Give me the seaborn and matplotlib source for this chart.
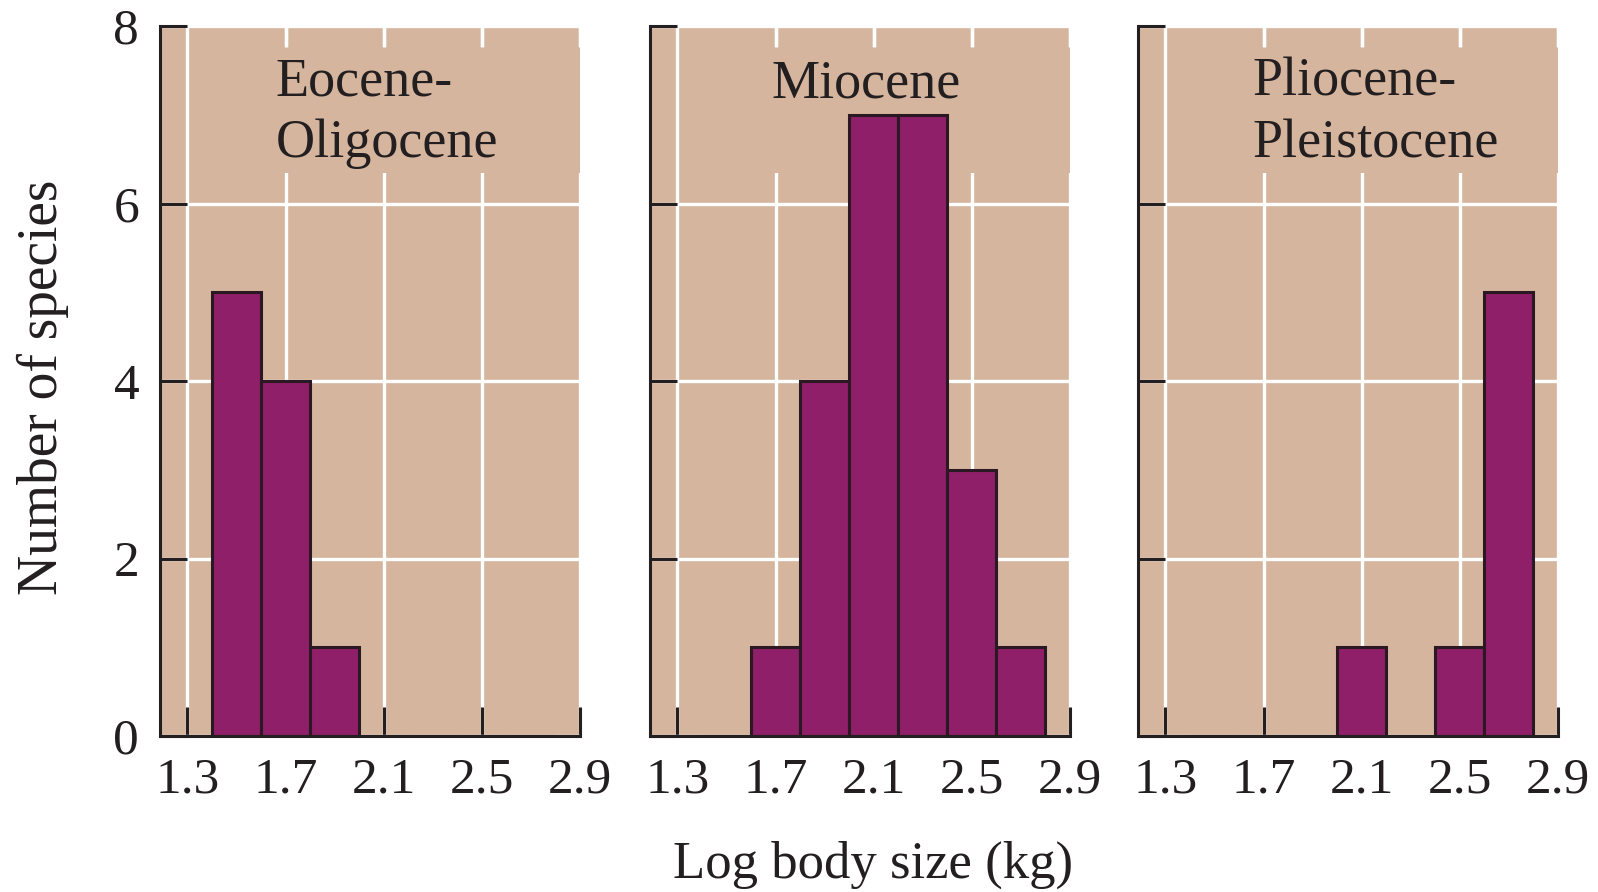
import numpy as np
import matplotlib
matplotlib.use("Agg")
import matplotlib.pyplot as plt
import seaborn as sns

# Histogram counts per epoch, binned by log body size (bin width 0.2)
periods = ["Eocene-\nOligocene", "Miocene", "Pliocene-\nPleistocene"]
eocene_bin_left = [1.4, 1.6, 1.8]
eocene_counts = [5, 4, 1]
miocene_bin_left = [1.6, 1.8, 2.0, 2.2, 2.4, 2.6]
miocene_counts = [1, 4, 7, 7, 3, 1]
plio_bin_left = [2.0, 2.4, 2.6]
plio_counts = [1, 1, 5]
bin_width = 0.2
bin_edges = [1.4, 1.6, 1.8, 2.0, 2.2, 2.4, 2.6, 2.8]

x_ticks = [1.3, 1.7, 2.1, 2.5, 2.9]
x_tick_labels = ["1.3", "1.7", "2.1", "2.5", "2.9"]
y_ticks = [0, 2, 4, 6, 8]
y_tick_labels = ["0", "2", "4", "6", "8"]

TAN = "#d6b59e"
PURPLE = "#8e1f68"
EDGE = "#2a1822"
INK = "#231f20"

sns.set_style("ticks")
plt.rcParams["font.family"] = ["Liberation Serif", "DejaVu Serif"]
plt.rcParams["text.color"] = INK

fig = plt.figure(figsize=(15.98, 8.92), dpi=100)

W, H = 1598, 892
panel_left_px = [160, 650, 1138]
panel_w_px = 420
bottom_px, top_px = 736, 26
XMIN, XMAX = 1.188, 2.9
BAND_LO, BAND_HI, BAND_X0 = 6.34, 7.76, 1.5

series = [
    (eocene_bin_left, eocene_counts),
    (miocene_bin_left, miocene_counts),
    (plio_bin_left, plio_counts),
]
# (x, y of last baseline, alignment) for each period name
title_pos = [(1.66, 6.52, "left"), (2.07, 7.2, "center"), (1.655, 6.52, "left")]

for i, ((lefts, counts), name) in enumerate(zip(series, periods)):
    ax = fig.add_axes([panel_left_px[i] / W, 1 - bottom_px / H,
                       panel_w_px / W, (bottom_px - top_px) / H])
    ax.set_facecolor(TAN)
    ax.set_axisbelow(True)

    centers = [l + bin_width / 2 for l in lefts]
    sns.histplot(x=centers, weights=counts, bins=bin_edges, ax=ax,
                 color=PURPLE, edgecolor=EDGE, linewidth=2.2, alpha=1,
                 zorder=2)

    ax.set_xlim(XMIN, XMAX)
    ax.set_ylim(0, 8)
    ax.set_xticks(x_ticks)
    ax.set_xticklabels(x_tick_labels)
    ax.set_yticks(y_ticks)
    if i == 0:
        ax.set_yticklabels(y_tick_labels)
    else:
        ax.set_yticklabels([])
    ax.set_xlabel("")
    ax.set_ylabel("")

    ax.grid(True, color="white", linewidth=2.4)
    ax.tick_params(axis="both", direction="in", width=2.2, color=INK,
                   labelsize=37, labelcolor=INK, pad=15)
    ax.tick_params(axis="x", length=21)
    ax.tick_params(axis="y", length=19.5)

    for side in ("top", "right"):
        ax.spines[side].set_visible(False)
    for side in ("left", "bottom"):
        ax.spines[side].set_linewidth(2.2)
        ax.spines[side].set_color(INK)

    # clear band behind the period name, with the grid resuming above it
    ax.axhspan(BAND_LO, BAND_HI, xmin=(BAND_X0 - XMIN) / (XMAX - XMIN),
               xmax=1.0, facecolor=TAN, edgecolor="none", linewidth=0,
               zorder=1)
    upper = [t for t in x_ticks if t > BAND_X0]
    ax.vlines(upper, BAND_HI, 8, colors="white", linewidth=2.4, zorder=1.1)

    tx, ty, ha = title_pos[i]
    ax.text(tx, ty, name, ha=ha, va="baseline", fontsize=39,
            linespacing=1.3, color=INK, zorder=3)
    ax.set_ylim(0, 8)

fig.text(873 / W, 1 - 878 / H, "Log body size (kg)", ha="center",
         va="baseline", fontsize=38, color=INK)
fig.text(43 / W, 1 - 387 / H, "Number of species", ha="center",
         va="center", rotation=90, fontsize=40, color=INK)

fig.savefig("out.png", dpi=100, facecolor="white")
